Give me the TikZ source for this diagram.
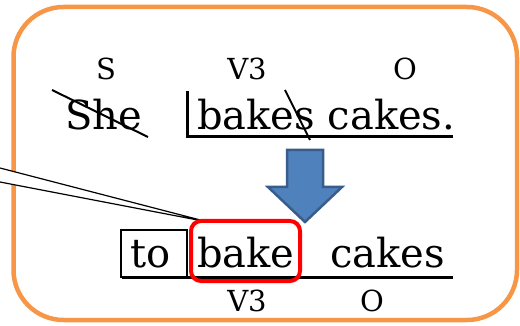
\documentclass[tikz,border=0pt]{standalone}
\usepackage{fontspec}
\setmainfont{DejaVu Serif}
\usepackage{tikz}
\definecolor{frameorange}{HTML}{F79646}
\definecolor{arrowblue}{HTML}{4F81BD}
\definecolor{arrowedge}{HTML}{385D8A}
\tikzset{
	word/.style={inner sep=0pt,anchor=base west,font=\fontsize{40}{48}\selectfont},
	role/.style={inner sep=0pt,anchor=base,font=\fontsize{29}{34}\selectfont},
	strike/.style={line width=2pt},
	rule/.style={line width=3pt},
}
\begin{document}
\begin{tikzpicture}[x=1pt,y=-1pt]
	\useasboundingbox (0,0) rectangle (520,326);
	%FRAME
	\draw[frameorange,line width=4.5pt,rounded corners=50pt] (13.5,7) rectangle (517,320);
	
	%CALLOUT
	\coordinate (tip) at (208,222);
	\coordinate (calla) at (0,168);
	\coordinate (callb) at (0,182);
	\filldraw[fill=white,line width=1.2pt] (calla)--(tip)--(callb);
	
	%TOP SENTENCE
	\node[word] (she) at (65,130) {She};
	\node[word] (bakes) at (197,130) {bakes cakes.};
	\draw[strike] (52,90)--(148,137);
	\draw[strike] (285,90)--(310,140);
	\draw[rule] (187,91)--(187,137)--(453,137);
	%
	\node[role] (subj) at (106,80) {S};
	\node[role] (verba) at (247,80) {V3};
	\node[role] (obja) at (405,80) {O};
	
	%BLOCK ARROW
	\filldraw[fill=arrowblue,draw=arrowedge,line width=2.5pt,line join=miter]
		(287,150)--(323,150)--(323,187)--(342,187)--(305,222)--(268,187)--(287,187)--cycle;
	
	%BOTTOM PHRASE
	\node[word] (to) at (130,268) {to};
	\node[word] (bake) at (197,268) {bake};
	\node[word] (cakes) at (330,268) {cakes};
	\draw[line width=2.5pt] (121,230) rectangle (187,277);
	\draw[rule] (122,277)--(453,277);
	\draw[red,line width=4pt,rounded corners=10pt] (191,221) rectangle (300,281);
	%
	\node[role] (verbb) at (247,312) {V3};
	\node[role] (objb) at (372,312) {O};
\end{tikzpicture}
\end{document}
